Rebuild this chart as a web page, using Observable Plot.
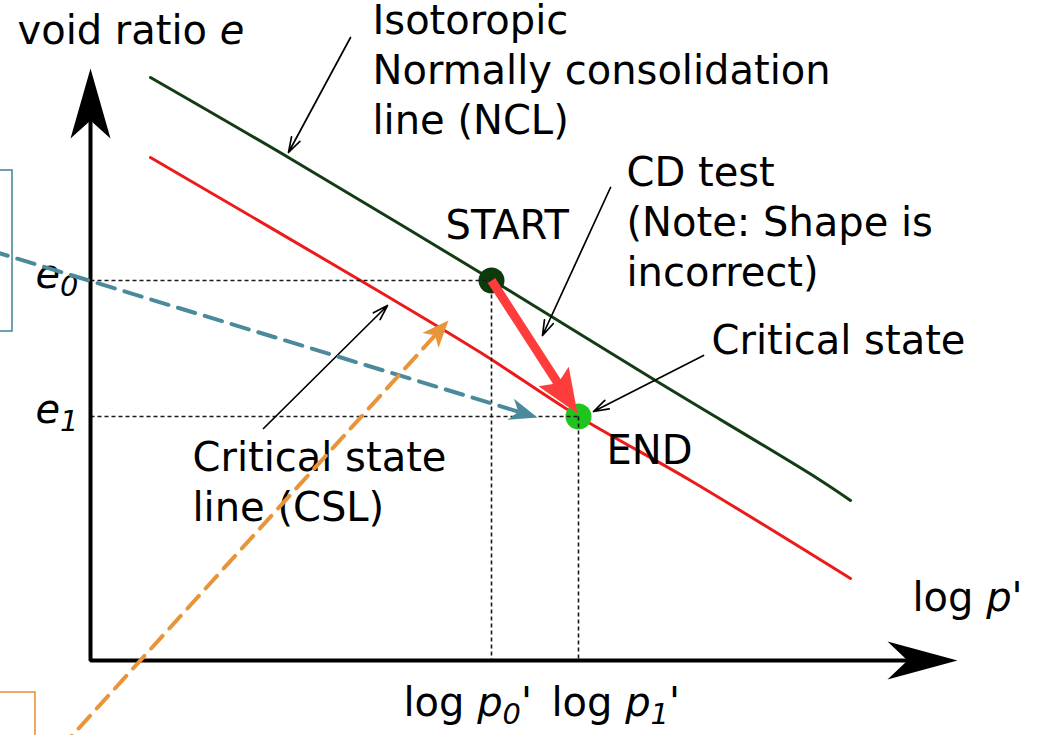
<!DOCTYPE html>
<html><head><meta charset="utf-8">
<script src="https://cdn.jsdelivr.net/npm/d3@7"></script>
<script src="https://cdn.jsdelivr.net/npm/@observablehq/plot@0.6"></script>
<style>html,body{margin:0;padding:0;background:#fff;overflow:hidden}</style>
</head><body><div id="chart"></div>
<script>
// ---------- data (schematic units: log p' on x, void ratio e on y) ----------
const ncl = [
  {logp: 0.60, e: 5.83}, {logp: 2.03, e: 5.00}, {logp: 4.01, e: 3.81},
  {logp: 5.65, e: 2.80}, {logp: 7.27, e: 1.82}, {logp: 7.60, e: 1.60}
];
const csl = [
  {logp: 0.60, e: 5.03}, {logp: 2.87, e: 3.70}, {logp: 3.90, e: 3.08},
  {logp: 4.88, e: 2.44}, {logp: 6.00, e: 1.80}, {logp: 7.60, e: 0.82}
];
const startPt = {logp: 4.01, e: 3.80};
const endPt = {logp: 4.88, e: 2.44};
const cdTip = {logp: 4.87, e: 2.47};
const axisPath = [{logp: 0, e: 5.5}, {logp: 0, e: 0}, {logp: 8.3, e: 0}];
const yAxisTip = {logp: 0, e: 5.92};
const xAxisTip = {logp: 8.67, e: 0};
const blueDash = [{logp: -1.0, e: 4.10}, {logp: 4.47, e: 2.43}];
const orangeDash = [{logp: -0.30, e: -0.88}, {logp: 3.58, e: 3.40}];
const blueBox = [{x1: -1.2, x2: -0.78, y1: 3.29, y2: 4.90}];
const orangeBox = [{x1: -1.2, x2: -0.55, y1: -1.4, y2: -0.32}];
const leaders = [
  {x1: 2.60, y1: 6.23, x2: 1.98, y2: 5.08},
  {x1: 5.20, y1: 4.73, x2: 4.52, y2: 3.25},
  {x1: 6.13, y1: 3.05, x2: 5.03, y2: 2.49},
  {x1: 1.73, y1: 2.32, x2: 2.97, y2: 3.55}
];
const labels = [
  {text: "Isotoropic\nNormally consolidation\nline (NCL)", logp: 2.82, e: 5.27},
  {text: "CD test\n(Note: Shape is\nincorrect)", logp: 5.36, e: 3.75},
  {text: "START", logp: 3.55, e: 4.22},
  {text: "Critical state", logp: 6.21, e: 3.07},
  {text: "END", logp: 5.16, e: 1.97},
  {text: "Critical state\nline (CSL)", logp: 1.02, e: 1.40},
  {text: "void ratio *e*", logp: -0.73, e: 6.17},
  {text: "log *p*'", logp: 8.22, e: 0.50},
  {text: "*e*_{0}", logp: -0.55, e: 3.73},
  {text: "*e*_{1}", logp: -0.55, e: 2.38},
  {text: "log *p*_{0}'", logp: 3.13, e: -0.55},
  {text: "log *p*_{1}'", logp: 4.61, e: -0.55}
];

// ---------- scales ----------
const W = 1038, H = 735;
const xDomain = [-0.9, 9.48], yDomain = [-0.75, 6.6];
const X = Plot.scale({x: {domain: xDomain, range: [0, W]}});
const Y = Plot.scale({y: {domain: yDomain, range: [H, 0]}});

function dirAngle(from, to) {
  return Math.atan2(Y.apply(to.e) - Y.apply(from.e), X.apply(to.logp) - X.apply(from.logp));
}
function backOff(from, to, px) {
  const a = dirAngle(from, to);
  return {logp: X.invert(X.apply(to.logp) - px * Math.cos(a)), e: Y.invert(Y.apply(to.e) - px * Math.sin(a))};
}
function headSymbol(angle, L, hw, notch) {
  return {
    draw(ctx) {
      const c = Math.cos(angle), s = Math.sin(angle);
      const p = (u, v) => [u * c - v * s, u * s + v * c];
      const pts = [p(0, 0), p(-L, -hw), p(-notch, 0), p(-L, hw)];
      ctx.moveTo(pts[0][0], pts[0][1]);
      for (let i = 1; i < pts.length; i++) ctx.lineTo(pts[i][0], pts[i][1]);
      ctx.closePath();
    }
  };
}

const blueTip = blueDash[1], orangeTip = orangeDash[1];
const blueEnd = backOff(blueDash[0], blueTip, 18);
const orangeEnd = backOff(orangeDash[0], orangeTip, 18);
const redEnd = backOff(startPt, cdTip, 32);

const dotted = [
  {x1: 0, y1: startPt.e, x2: startPt.logp, y2: startPt.e},
  {x1: startPt.logp, y1: startPt.e, x2: startPt.logp, y2: 0},
  {x1: 0, y1: endPt.e, x2: endPt.logp, y2: endPt.e},
  {x1: endPt.logp, y1: endPt.e, x2: endPt.logp, y2: 0}
];

const BLUE = "#4a8a9b", ORANGE = "#e8943a";
const FONT = "DejaVu Sans";

const svg = Plot.plot({
  width: W, height: H, margin: 0,
  x: {domain: xDomain, range: [0, W], axis: null},
  y: {domain: yDomain, range: [H, 0], axis: null},
  style: {background: "#fff"},
  marks: [
    Plot.rect(blueBox, {x1: "x1", x2: "x2", y1: "y1", y2: "y2", fill: "none", stroke: BLUE, strokeWidth: 1.6}),
    Plot.rect(orangeBox, {x1: "x1", x2: "x2", y1: "y1", y2: "y2", fill: "none", stroke: ORANGE, strokeWidth: 1.6}),
    Plot.line(ncl, {x: "logp", y: "e", stroke: "#143c14", strokeWidth: 3, curve: "catmull-rom"}),
    Plot.line(csl, {x: "logp", y: "e", stroke: "#ee1a1a", strokeWidth: 3, curve: "catmull-rom"}),
    Plot.dot([startPt], {x: "logp", y: "e", r: 13, fill: "#0b3a0b", stroke: "none"}),
    Plot.dot([endPt], {x: "logp", y: "e", r: 13, fill: "#1fc41f", stroke: "none"}),
    Plot.link(dotted, {x1: "x1", y1: "y1", x2: "x2", y2: "y2", stroke: "#1a1a1a", strokeWidth: 1.6, strokeDasharray: "4,3"}),
    Plot.link([{a: startPt, b: redEnd}], {x1: d => d.a.logp, y1: d => d.a.e, x2: d => d.b.logp, y2: d => d.b.e, stroke: "#ff3c3c", strokeWidth: 9}),
    Plot.dot([cdTip], {x: "logp", y: "e", symbol: headSymbol(dirAngle(startPt, cdTip), 44, 18, 36), fill: "#ff3c3c", stroke: "none"}),
    Plot.arrow(leaders, {x1: "x1", y1: "y1", x2: "x2", y2: "y2", stroke: "black", strokeWidth: 1.7, headLength: 14, headAngle: 35}),
    Plot.line(axisPath, {x: "logp", y: "e", stroke: "black", strokeWidth: 4, strokeLinejoin: "miter", strokeLinecap: "butt"}),
    Plot.dot([yAxisTip], {x: "logp", y: "e", symbol: headSymbol(-Math.PI / 2, 70, 20, 52), fill: "black", stroke: "none"}),
    Plot.dot([xAxisTip], {x: "logp", y: "e", symbol: headSymbol(0, 70, 19, 50), fill: "black", stroke: "none"}),
    Plot.text(labels, {x: "logp", y: "e", text: "text", textAnchor: "start", lineAnchor: "bottom", lineHeight: 1.25, fontSize: 40, fontFamily: FONT, fill: "black"}),
    Plot.line([blueDash[0], blueEnd], {x: "logp", y: "e", stroke: BLUE, strokeWidth: 4, strokeDasharray: "18,10"}),
    Plot.dot([blueTip], {x: "logp", y: "e", symbol: headSymbol(dirAngle(blueDash[0], blueTip), 28, 11, 20), fill: BLUE, stroke: "none"}),
    Plot.line([orangeDash[0], orangeEnd], {x: "logp", y: "e", stroke: ORANGE, strokeWidth: 4, strokeDasharray: "17,10"}),
    Plot.dot([orangeTip], {x: "logp", y: "e", symbol: headSymbol(dirAngle(orangeDash[0], orangeTip), 27, 11, 20), fill: ORANGE, stroke: "none"})
  ]
});

// rich text: *italic* and _{subscript}
d3.select(svg).selectAll("text").each(function () {
  if (this.querySelector("tspan")) return;
  const t = this.textContent;
  if (!/[*_]/.test(t)) return;
  this.textContent = "";
  const re = /\*([^*]+)\*|_\{([^}]+)\}|([^*_]+)/g;
  let m, shifted = false;
  while ((m = re.exec(t))) {
    const ts = document.createElementNS("http://www.w3.org/2000/svg", "tspan");
    if (m[1] !== undefined) { ts.textContent = m[1]; ts.setAttribute("font-style", "italic"); }
    else if (m[2] !== undefined) {
      ts.textContent = m[2]; ts.setAttribute("font-style", "italic");
      ts.setAttribute("font-size", "72%"); ts.setAttribute("dy", "8"); shifted = true;
      this.appendChild(ts); continue;
    } else { ts.textContent = m[3]; }
    if (shifted) { ts.setAttribute("dy", "-8"); shifted = false; }
    this.appendChild(ts);
  }
});

document.getElementById("chart").appendChild(svg);
</script></body></html>
